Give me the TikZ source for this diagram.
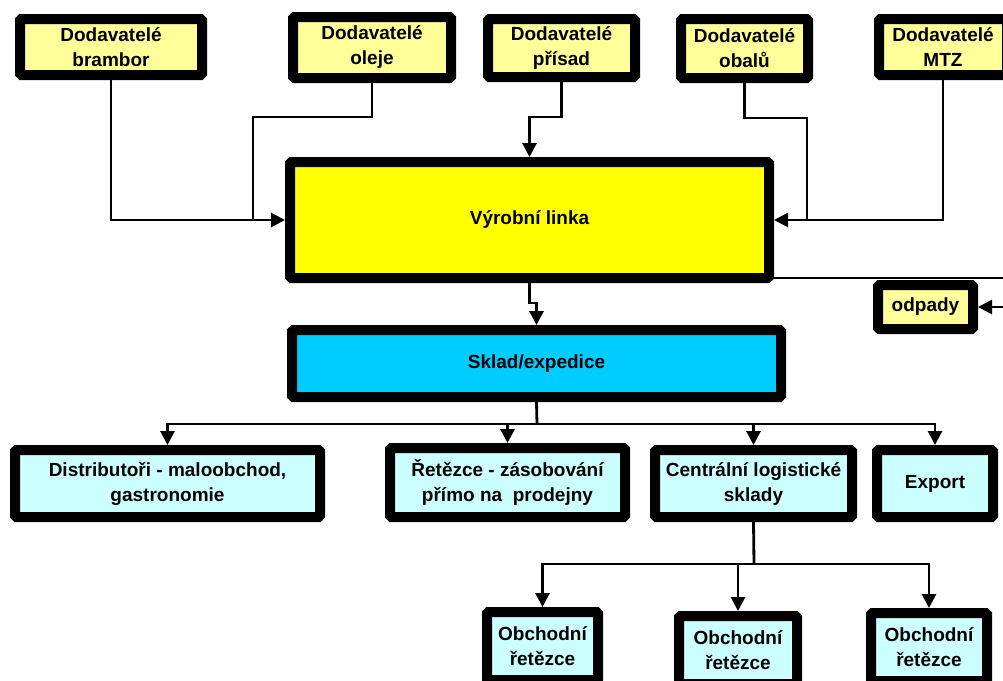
\documentclass[tikz,border=0pt]{standalone}
\usepackage{fontspec}
\setmainfont{Liberation Sans}
\usetikzlibrary{arrows.meta,calc}
\definecolor{dodyellow}{HTML}{FFFF99}
\definecolor{linkayellow}{HTML}{FFFF00}
\definecolor{skladblue}{HTML}{00CCFF}
\definecolor{odbcyan}{HTML}{CCFFFF}

\begin{document}
\begin{tikzpicture}[x=1pt,y=-1pt,
	box/.style={draw=black,line width=10pt,rounded corners=1.5pt,inner sep=0pt,align=center,font=\fontsize{19}{25}\selectfont\bfseries},
	dodbox/.style={box,fill=dodyellow},
	odbbox/.style={box,fill=odbcyan},
	spoj/.style={line width=2.8pt},
	arr/.style={spoj,-{Triangle[length=14pt,width=14pt]}}]
				\useasboundingbox (0,0) rectangle (1003,680);
				
				\node[dodbox,minimum width=182pt,minimum height=56pt] (brambor) at (111,47) {Dodavatelé\\brambor};
				\node[dodbox,minimum width=158pt,minimum height=61pt] (oleje) at (372,47.5) {Dodavatelé\\oleje};
				\node[dodbox,minimum width=147pt,minimum height=58pt] (prisad) at (561.5,48) {Dodavatelé\\přísad};
				\node[dodbox,minimum width=127pt,minimum height=59pt] (obalu) at (744.5,48.5) {Dodavatelé\\obalů};
				\node[dodbox,minimum width=128pt,minimum height=56pt] (mtz) at (943,47) {Dodavatelé\\MTZ};
				
				\node[box,fill=linkayellow,minimum width=479pt,minimum height=116pt] (linka) at (529.5,220) {Výrobní linka};
				\node[dodbox,minimum width=95pt,minimum height=44pt] (odpady) at (925.5,307) {odpady};
				\node[box,fill=skladblue,minimum width=489pt,minimum height=67pt] (sklad) at (536.5,363.5) {Sklad/expedice};
				
				\node[odbbox,minimum width=305pt,minimum height=67pt] (distrib) at (167.5,483.5) {Distributoři - maloobchod,\\gastronomie};
				\node[odbbox,minimum width=235pt,minimum height=69pt] (retezce) at (507.5,482.5) {Řetězce - zásobování\\přímo na~ prodejny};
				\node[odbbox,minimum width=197pt,minimum height=67pt] (central) at (753.5,483.5) {Centrální logistické\\sklady};
				\node[odbbox,minimum width=116pt,minimum height=67pt] (export) at (935,483.5) {Export};
				
				\node[odbbox,minimum width=111pt,minimum height=68pt] (obch1) at (542.5,646) {Obchodní\\řetězce};
				\node[odbbox,minimum width=118pt,minimum height=68pt] (obch2) at (738,650) {Obchodní\\řetězce};
				\node[odbbox,minimum width=116pt,minimum height=68pt] (obch3) at (929,647) {Obchodní\\řetězce};
				
				\coordinate (o1) at (253,117);
				\coordinate (b1) at (807,220);
				\coordinate (w1) at (1015,278);
				\coordinate (s1) at (537,424);
				\coordinate (c1) at (754,564);
				
				\draw[arr] (brambor.south) |- (linka.west);
				\draw[spoj] (oleje.south) |- (o1) -- (o1 |- linka.west);
				\draw[arr] (prisad.south) -- ++(0,35) -| (linka.north);
				\draw[spoj] (obalu.south) -- ++(0,35) -| (b1);
				\draw[arr] (mtz.south) |- (linka.east);
				\draw[arr] (linka.south east) ++(0,-5) -- (w1) |- (odpady.east);
				
				\draw[arr] (linka.south) -- ++(0,20) -| (sklad.north);
				\draw[spoj] (sklad.south) -- (s1);
				\foreach \n in {distrib,retezce,central,export}{
					\draw[arr] (s1) -| (\n.north);}
				
				\draw[spoj] (central.south) -- (c1);
				\foreach \n in {obch1,obch2,obch3}{
					\draw[arr] (c1) -| (\n.north);}
\end{tikzpicture}
\end{document}
